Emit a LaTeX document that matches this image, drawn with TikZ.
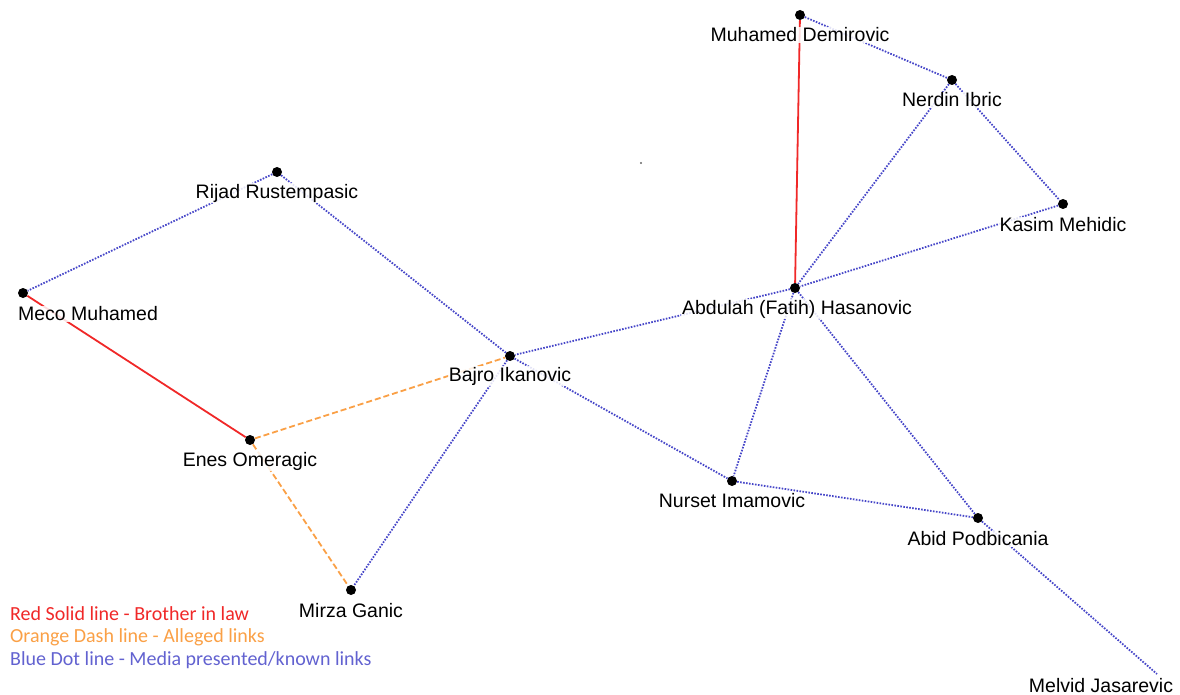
\documentclass[tikz,border=0pt]{standalone}
\usepackage{fontspec}
\setmainfont{Liberation Sans}
\newfontfamily\legendfont{Carlito}
\usepackage{tikz}
\usetikzlibrary{calc}

\definecolor{linkred}{RGB}{240,40,40}
\definecolor{linkorange}{RGB}{250,160,70}
\definecolor{linkblue}{RGB}{70,70,200}

\tikzset{
  person/.style = {circle, fill = black, inner sep = 0pt, minimum size = 10pt},
  personname/.style = {font = \fontsize{19.5}{22}\selectfont, inner sep = 1pt,
    fill = white, fill opacity = 0.85, text opacity = 1},
  inlaw/.style = {draw = linkred, line width = 1.8pt},
  alleged/.style = {draw = linkorange, line width = 1.8pt, dash pattern = on 6pt off 3pt},
  known/.style = {draw = linkblue, line width = 1.8pt, dash pattern = on 1.6pt off 1.4pt},
  legendtext/.style = {font = \legendfont\fontsize{20}{22}\selectfont, anchor = west, inner sep = 0pt}
}

\begin{document}
\begin{tikzpicture}[x = 1pt, y = -1pt]
        \useasboundingbox (0,0) rectangle (1180,695);
        % people
        \node[person] (demirovic) at (800, 15) {};
        \node[person] (ibric) at (952, 80) {};
        \node[person] (mehidic) at (1063, 204) {};
        \node[person] (hasanovic) at (795, 288) {};
        \node[person] (rustempasic) at (277, 172) {};
        \node[person] (meco) at (23, 293) {};
        \node[person] (ikanovic) at (510, 356) {};
        \node[person] (omeragic) at (250, 440) {};
        \node[person] (imamovic) at (732, 481) {};
        \node[person] (podbicania) at (978, 518) {};
        \node[person] (ganic) at (351, 590) {};
        \coordinate (jasarevic) at (1157, 674);
        \fill[black!60] (641, 163) circle[radius = 1.2pt];
        % links
        \draw[inlaw] (demirovic) -- (hasanovic);
        \draw[inlaw] (meco) -- (omeragic);
        \draw[alleged] (omeragic) -- (ikanovic);
        \draw[alleged] (omeragic) -- (ganic);
        \draw[known] (demirovic) -- (ibric);
        \draw[known] (ibric) -- (mehidic);
        \draw[known] (ibric) -- (hasanovic);
        \draw[known] (mehidic) -- (hasanovic);
        \draw[known] (hasanovic) -- (ikanovic);
        \draw[known] (rustempasic) -- (meco);
        \draw[known] (rustempasic) -- (ikanovic);
        \draw[known] (ikanovic) -- (ganic);
        \draw[known] (ikanovic) -- (imamovic);
        \draw[known] (hasanovic) -- (imamovic);
        \draw[known] (hasanovic) -- (podbicania);
        \draw[known] (imamovic) -- (podbicania);
        \draw[known] (podbicania) -- (jasarevic);
        % names
        \node[personname] at (800, 35) {Muhamed Demirovic};
        \node[personname] at (952, 100) {Nerdin Ibric};
        \node[personname] at (1063, 225) {Kasim Mehidic};
        \node[personname] at (797, 309) {Abdulah (Fatih) Hasanovic};
        \node[personname] at (277, 193) {Rijad Rustempasic};
        \node[personname] at (88, 314) {Meco Muhamed};
        \node[personname] at (510, 376) {Bajro Ikanovic};
        \node[personname] at (250, 461) {Enes Omeragic};
        \node[personname] at (732, 501) {Nurset Imamovic};
        \node[personname] at (978, 539) {Abid Podbicania};
        \node[personname] at (351, 611) {Mirza Ganic};
        \node[personname] at (1101, 686) {Melvid Jasarevic};
        % legend
        \node[legendtext, text = linkred] (leg1) at (10, 614) {Red Solid line - Brother in law};
        \node[legendtext, text = linkorange] (leg2) at (10, 637) {Orange Dash line - Alleged links};
        \node[legendtext, text = linkblue!85!white] (leg3) at (10, 660) {Blue Dot line - Media presented/known links};
\end{tikzpicture}
\end{document}
